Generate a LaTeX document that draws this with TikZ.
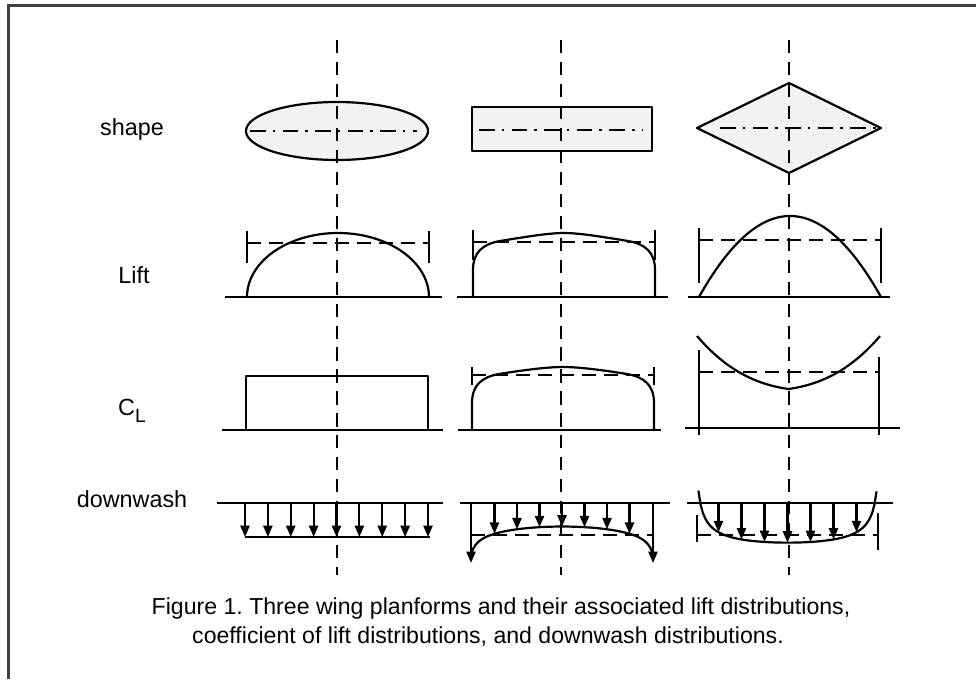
\documentclass[tikz,border=0pt]{standalone}
\usepackage{fontspec}
\setmainfont{Liberation Sans}
\usetikzlibrary{arrows.meta}
\frenchspacing
\begin{document}
\begin{tikzpicture}[x=0.02cm,y=-0.02cm,
  ln/.style={line width=1.25pt, line join=round},
  base/.style={line width=1.5pt},
  cdash/.style={line width=1.25pt, dash pattern=on 7.5pt off 5pt},
  hdash/.style={line width=1.25pt, dash pattern=on 8pt off 4.5pt},
  dashdot/.style={line width=1.25pt, dash pattern=on 9pt off 4pt on 1.5pt off 4pt},
  dw/.style={line width=1.25pt, -{Triangle[length=6.5pt,width=5.2pt]}},
  lbl/.style={font=\fontsize{13.3}{16}\selectfont, inner sep=0pt, anchor=base},
  captext/.style={font=\fontsize{13.15}{15}\selectfont, inner sep=0pt, anchor=base},
  shapefill/.style={fill=black!5}
]
\useasboundingbox (0,0) rectangle (976,679);
% frame
\draw[line width=1.3pt, black!75] (8.5,679) -- (8.5,5.5) -- (976,5.5);

% labels
\node[lbl] (lshape) at (132,135) {shape};
\node[lbl] (llift) at (134,283) {Lift};
\node[lbl] (lcl) at (132,415) {C\raisebox{-4pt}{\fontsize{11}{12}\selectfont L}};
\node[lbl] (ldw) at (132,507) {downwash};

% ===== shapes row =====
\draw[ln, shapefill] plot[domain=0:360, samples=120] ({337+91*cos(\x)},{131+29*sin(\x)}) -- cycle;
\draw[dashdot] (250,131) -- (417,131);
\draw[ln, shapefill] (472,107) rectangle (652,151);
\draw[dashdot] (479,130) -- (642,130);
\draw[ln, shapefill] (697,128) -- (789,83) -- (881,128) -- (789,173) -- cycle;
\draw[dashdot] (720,128) -- (881,128);

% ===== Lift row =====
% col1
\draw[base] (225,297) -- (442,297);
\draw[ln] plot[domain=180:0, samples=80] ({338+91*cos(\x)},{297-64*sin(\x)});
\draw[hdash] (247,243) -- (429,243);
\draw[ln] (247,231) -- (247,263);
\draw[ln] (429,231) -- (429,263);
% col2
\draw[base] (457,297) -- (668,297);
\draw[ln] (473,297) -- (473,270) .. controls (473,252) and (483,244) .. (500,241)
  .. controls (525,237) and (548,233) .. (564,233)
  .. controls (580,233) and (603,237) .. (628,241)
  .. controls (645,244) and (655,252) .. (655,270) -- (655,297);
\draw[hdash] (473,242) -- (655,242);
\draw[ln] (473,230) -- (473,260);
\draw[ln] (655,230) -- (655,260);
% col3
\draw[base] (688,297) -- (890,297);
\draw[ln] plot[domain=-1:1, samples=81] ({790+91*\x},{297-81*(1-\x*\x)});
\draw[hdash] (699,240) -- (881,240);
\draw[ln] (699,228) -- (699,283);
\draw[ln] (881,228) -- (881,283);

% ===== CL row =====
% col1
\draw[base] (222,430) -- (443,430);
\draw[ln] (246,430) -- (246,376) -- (428,376) -- (428,430);
% col2
\draw[base] (458,430) -- (661,430);
\draw[ln] (472,430) -- (472,403) .. controls (472,385) and (482,377) .. (499,374)
  .. controls (524,370) and (547,367) .. (563,367)
  .. controls (579,367) and (602,370) .. (627,374)
  .. controls (644,377) and (654,385) .. (654,403) -- (654,430);
\draw[hdash] (472,375) -- (654,375);
\draw[ln] (472,367) -- (472,385);
\draw[ln] (654,367) -- (654,385);
% col3
\draw[base] (685,428) -- (900,428);
\draw[ln] (699,350) -- (699,435);
\draw[ln] (879,357) -- (879,435);
\draw[hdash] (699,372) -- (879,372);
\draw[ln] plot[domain=-1:1, samples=81] ({788.5+91.5*\x},{389-(13*abs(\x)+26*\x*\x+14*abs(\x)^3)});

% ===== downwash row =====
% col1
\draw[base] (217,503) -- (443,503);
\draw[base] (245,537) -- (430,537);
\foreach \i in {0,...,8} {
  \draw[dw] ({245+22.875*\i},503) -- ({245+22.875*\i},537);
}
% col2
\draw[base] (460,503) -- (670,503);
\draw[hdash] (471,535) -- (653,535);
\draw[ln] plot[domain=-1:1, samples=81] ({562+91*\x},{527+6*\x*\x+10*(1/sqrt(1-\x*\x+0.1)-1)});
\draw[dw] (471,503) -- (471,563);
\draw[dw] (653,503) -- (653,563);
\foreach \k in {-3,...,3} {
  \pgfmathsetmacro{\uu}{22.5*\k/91}
  \pgfmathsetmacro{\yy}{527+6*\uu*\uu+10*(1/sqrt(1-\uu*\uu+0.1)-1)}
  \draw[dw] ({562+22.5*\k},503) -- ({562+22.5*\k},\yy);
}
% col3
\draw[base] (687,503) -- (893,503);
\draw[hdash] (697,535) -- (878,535);
\draw[ln] (697,515) -- (697,542);
\draw[ln] (878,513) -- (878,550);
\draw[ln] plot[domain=-0.985:0.985, samples=81] ({787.5+90.5*\x},{542-22*(1/sqrt(1-\x*\x+0.06)-1)});
\foreach \k in {-3,...,3} {
  \pgfmathsetmacro{\uu}{23*\k/90.5}
  \pgfmathsetmacro{\yy}{542-22*(1/sqrt(1-\uu*\uu+0.06)-1)}
  \draw[dw] ({787.5+23*\k},503) -- ({787.5+23*\k},\yy);
}

% center lines
\draw[cdash] (337,40) -- (337,575);
\draw[cdash] (561,40) -- (561,575);
\draw[cdash] (789,40) -- (789,575);

% caption
\node[captext] (cap1) at (501,614) {Figure 1. Three wing planforms and their associated lift distributions,};
\node[captext] (cap2) at (488,643) {coefficient of lift distributions, and downwash distributions.};
\end{tikzpicture}
\end{document}
